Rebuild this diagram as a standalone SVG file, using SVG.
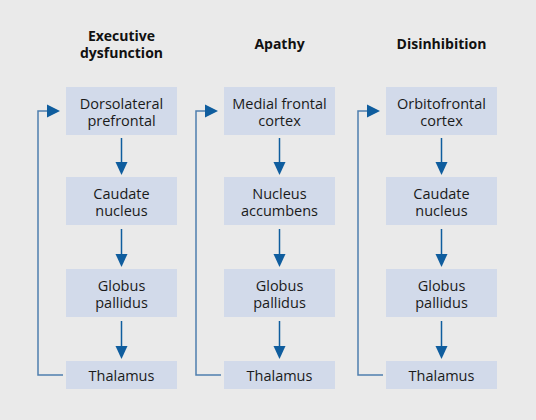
<svg xmlns="http://www.w3.org/2000/svg" width="536" height="420" viewBox="0 0 536 420">
<defs>
<style>
.bg{fill:#eaeaea}
.box{fill:#d2daea}
.t{font-family:"Open Sans","Noto Sans",sans-serif;font-size:14.5px;fill:#1a1a1a;text-anchor:middle}
.h{font-family:"Open Sans","Noto Sans",sans-serif;font-size:14px;font-weight:bold;fill:#111;text-anchor:middle}
.c{fill:none;stroke:#0f5d9e;stroke-width:1.5}
.cf{fill:none;stroke:#4f7fae;stroke-width:1.5}
.ah{fill:#0f5d9e}
</style>
</defs>
<rect class="bg" x="0" y="0" width="536" height="420"/>
<g id="titles">
<text class="h" x="121.5" y="41">Executive<tspan x="121.5" y="58">dysfunction</tspan></text>
<text class="h" x="279.5" y="49">Apathy</text>
<text class="h" x="441.5" y="49">Disinhibition</text>
</g>
<g id="connectors">
<line class="c" x1="121.5" y1="138" x2="121.5" y2="164"/>
<polygon class="ah" points="115.5,162 127.5,162 121.5,175"/>
<line class="c" x1="121.5" y1="229" x2="121.5" y2="256"/>
<polygon class="ah" points="115.5,254 127.5,254 121.5,267"/>
<line class="c" x1="121.5" y1="321" x2="121.5" y2="348"/>
<polygon class="ah" points="115.5,346 127.5,346 121.5,359"/>
<polyline class="cf" points="63,375 38,375 38,111 49,111"/>
<polygon class="ah" points="47,104.5 47,117.5 60,111"/>
<line class="c" x1="279.5" y1="138" x2="279.5" y2="164"/>
<polygon class="ah" points="273.5,162 285.5,162 279.5,175"/>
<line class="c" x1="279.5" y1="229" x2="279.5" y2="256"/>
<polygon class="ah" points="273.5,254 285.5,254 279.5,267"/>
<line class="c" x1="279.5" y1="321" x2="279.5" y2="348"/>
<polygon class="ah" points="273.5,346 285.5,346 279.5,359"/>
<polyline class="cf" points="221,375 196,375 196,111 207,111"/>
<polygon class="ah" points="205,104.5 205,117.5 218,111"/>
<line class="c" x1="441.5" y1="138" x2="441.5" y2="164"/>
<polygon class="ah" points="435.5,162 447.5,162 441.5,175"/>
<line class="c" x1="441.5" y1="229" x2="441.5" y2="256"/>
<polygon class="ah" points="435.5,254 447.5,254 441.5,267"/>
<line class="c" x1="441.5" y1="321" x2="441.5" y2="348"/>
<polygon class="ah" points="435.5,346 447.5,346 441.5,359"/>
<polyline class="cf" points="383,375 358,375 358,111 369,111"/>
<polygon class="ah" points="367,104.5 367,117.5 380,111"/>
</g>
<g id="n-dorsolateral"><rect class="box" x="66" y="87" width="111" height="48"/><text class="t" x="121.5" y="109">Dorsolateral<tspan x="121.5" y="126">prefrontal</tspan></text></g>
<g id="n-caudate1"><rect class="box" x="66" y="177" width="111" height="48"/><text class="t" x="121.5" y="199">Caudate<tspan x="121.5" y="216">nucleus</tspan></text></g>
<g id="n-globus1"><rect class="box" x="66" y="269" width="111" height="48"/><text class="t" x="121.5" y="291">Globus<tspan x="121.5" y="308">pallidus</tspan></text></g>
<g id="n-thalamus1"><rect class="box" x="66" y="361" width="111" height="28"/><text class="t" x="121.5" y="381">Thalamus</text></g>
<g id="n-medial"><rect class="box" x="224" y="87" width="111" height="48"/><text class="t" x="279.5" y="109">Medial frontal<tspan x="279.5" y="126">cortex</tspan></text></g>
<g id="n-accumbens"><rect class="box" x="224" y="177" width="111" height="48"/><text class="t" x="279.5" y="199">Nucleus<tspan x="279.5" y="216">accumbens</tspan></text></g>
<g id="n-globus2"><rect class="box" x="224" y="269" width="111" height="48"/><text class="t" x="279.5" y="291">Globus<tspan x="279.5" y="308">pallidus</tspan></text></g>
<g id="n-thalamus2"><rect class="box" x="224" y="361" width="111" height="28"/><text class="t" x="279.5" y="381">Thalamus</text></g>
<g id="n-orbitofrontal"><rect class="box" x="386" y="87" width="111" height="48"/><text class="t" x="441.5" y="109">Orbitofrontal<tspan x="441.5" y="126">cortex</tspan></text></g>
<g id="n-caudate3"><rect class="box" x="386" y="177" width="111" height="48"/><text class="t" x="441.5" y="199">Caudate<tspan x="441.5" y="216">nucleus</tspan></text></g>
<g id="n-globus3"><rect class="box" x="386" y="269" width="111" height="48"/><text class="t" x="441.5" y="291">Globus<tspan x="441.5" y="308">pallidus</tspan></text></g>
<g id="n-thalamus3"><rect class="box" x="386" y="361" width="111" height="28"/><text class="t" x="441.5" y="381">Thalamus</text></g>
</svg>
